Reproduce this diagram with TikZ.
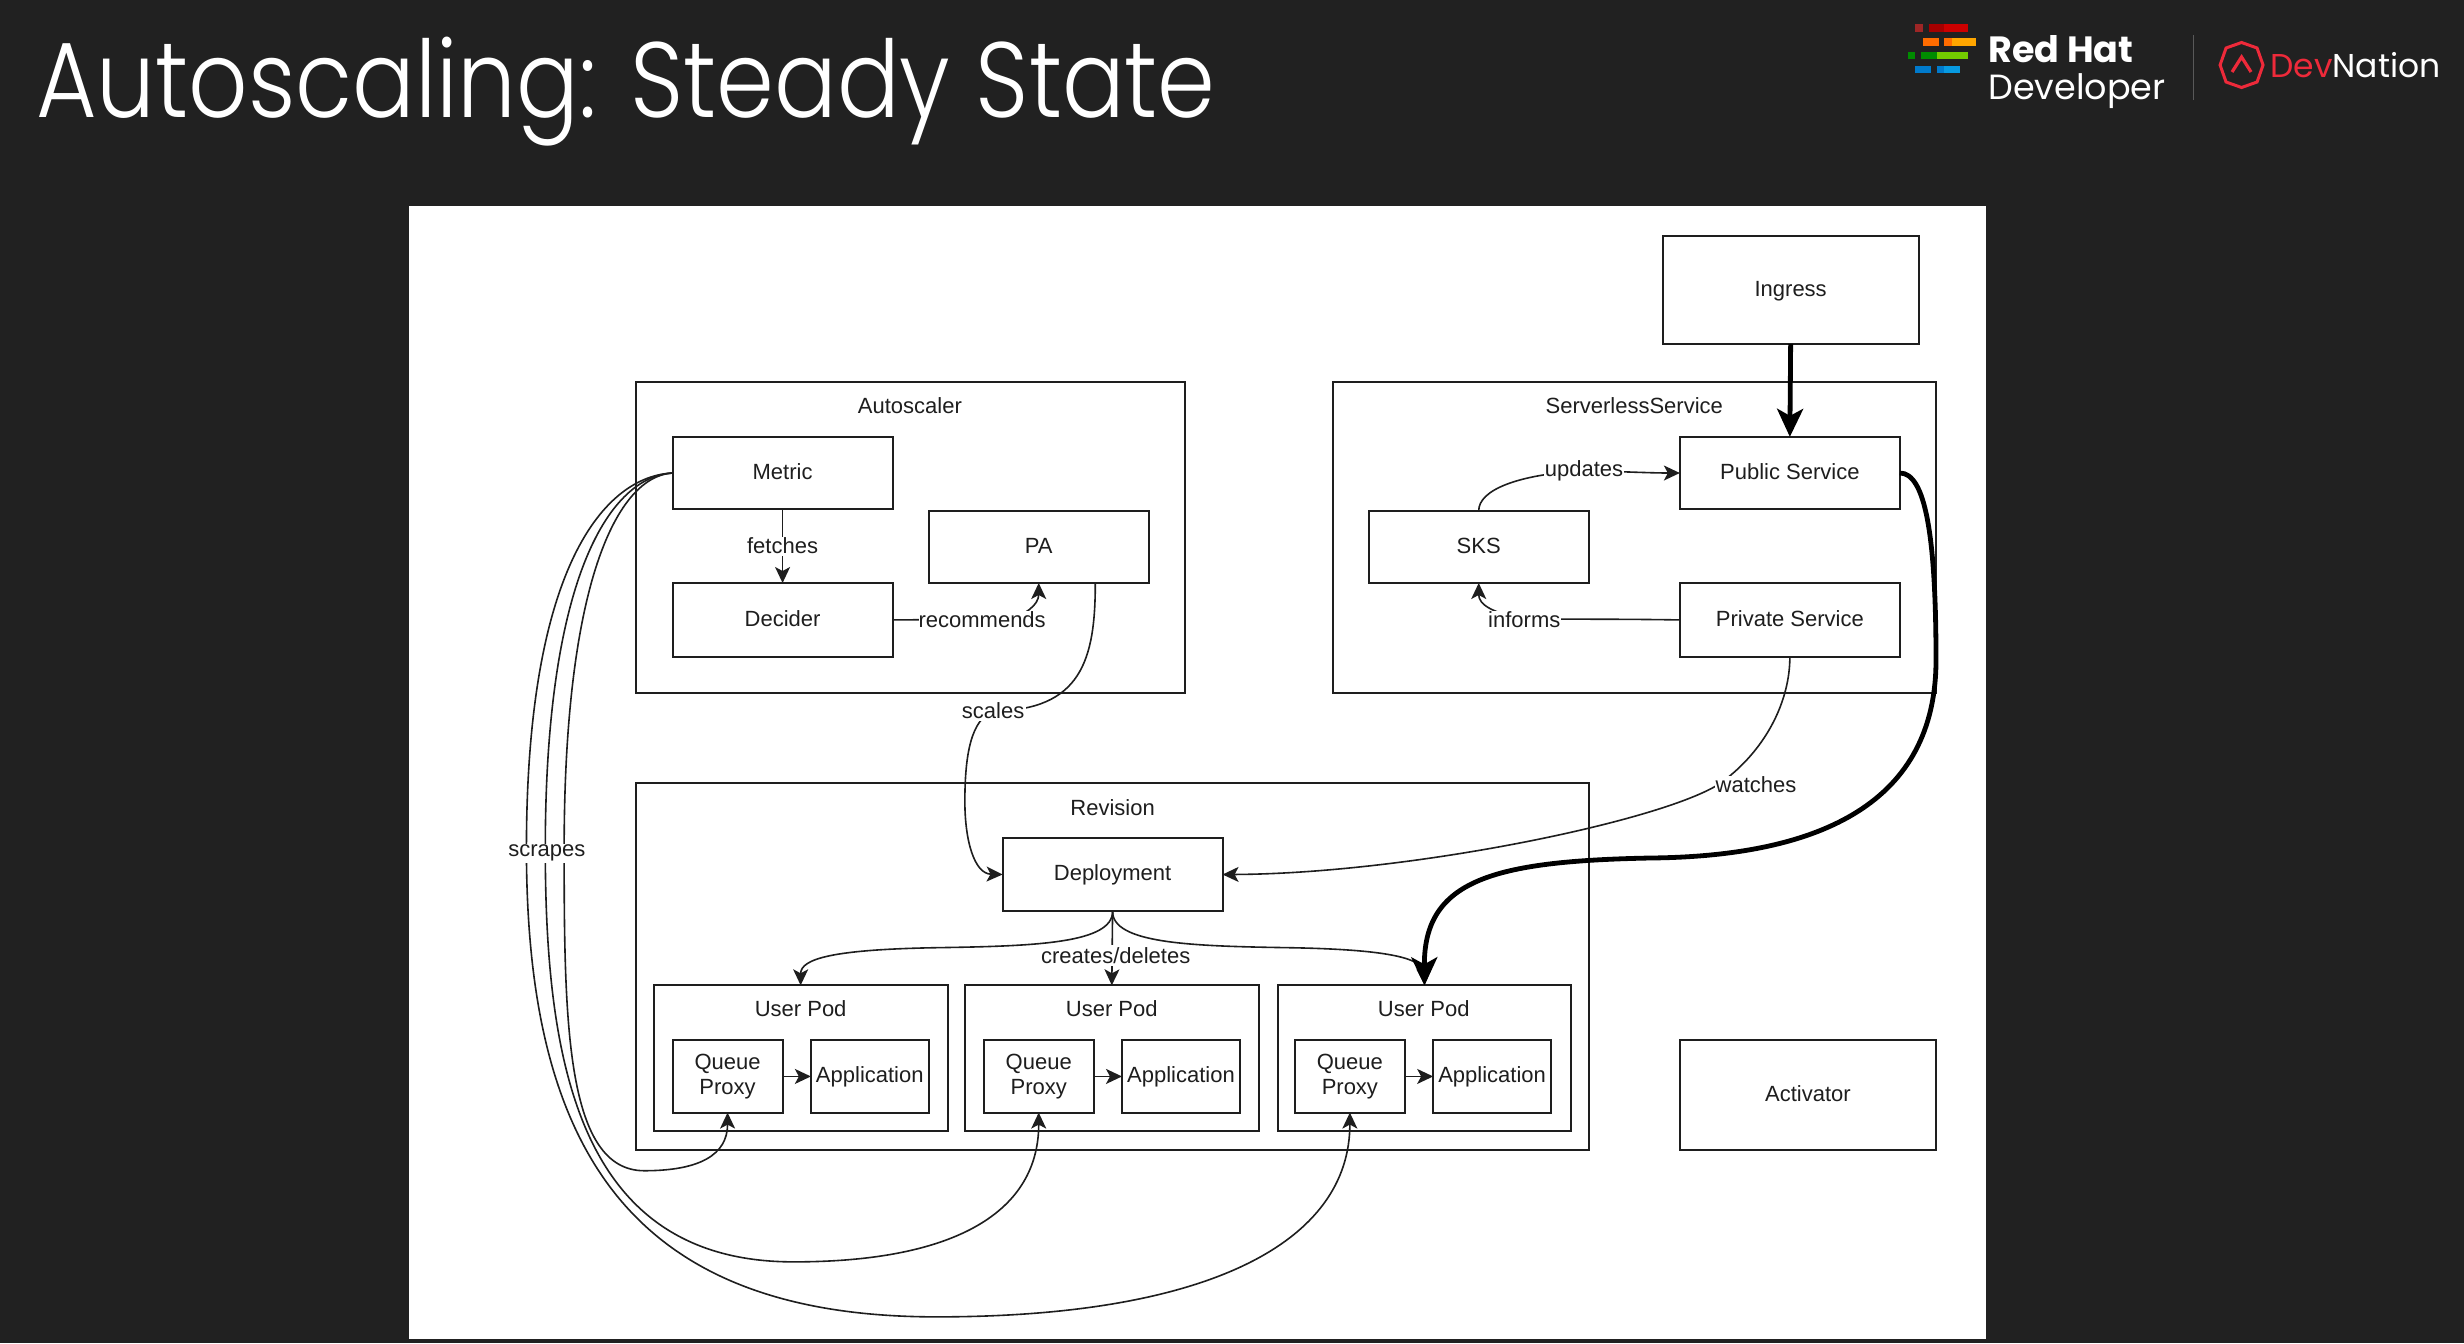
\documentclass[tikz,border=0pt]{standalone}
\usepackage{fontspec}
\setmainfont{Liberation Sans}
\newfontfamily\titlefont[FakeStretch=0.868]{Poppins Light}
\newfontfamily\brandfont{Poppins}
\usetikzlibrary{arrows.meta,calc}
\definecolor{slide}{HTML}{212121}
\definecolor{ink}{HTML}{1E1E1E}
\definecolor{dnred}{HTML}{EE2A3A}
\tikzset{
  twoline/.style={draw=ink,line width=2pt,fill=white,inner sep=0pt,outer sep=0pt,text=ink,align=center,font=\fontsize{22}{25.5}\selectfont},
  boxy/.style={twoline,text height=18pt,text depth=5.4pt},
  grp/.style={boxy,fill=none},
  captxt/.style={inner sep=0pt,text=ink,font=\fontsize{22}{25.5}\selectfont},
  lab/.style={fill=white,inner sep=1.5pt,text=ink,font=\fontsize{22}{25.5}\selectfont},
  conn/.style={draw=ink,line width=1.6pt,-{Stealth[length=16pt,width=15pt,inset=4pt]}},
  heavy/.style={draw=black,line width=4.8pt,-{Stealth[length=28pt,width=26pt,inset=7pt]}},
}
\newcommand{\bx}[7][boxy]{\node[#1,minimum width={(#5-#3)*1.5714pt},minimum height={(#6-#4)*1.5714pt}] (#2) at ({(#3+#5)/2},{(#4+#6)/2}) {#7};}
\begin{document}
\begin{tikzpicture}[x=1.5714pt,y=-1.5714pt]
\useasboundingbox (0,0) rectangle (1568,854.65);
\fill[slide] (0,0) rectangle (1568,854.65);
\fill[white] (260,131) rectangle (1264,852);

% title
\node[anchor=base west,inner sep=0pt,text=white,font=\titlefont\fontsize{107}{120}\selectfont] (title) at (23,75) {Autoscaling: Steady State};

% logo
\begin{scope}[x=1pt,y=-1pt]
\fill[red!55!black!85!white] (1915,24) rectangle (1923,32);
\fill[red!65!black] (1929,24) rectangle (1944,32);
\fill[red!80!black] (1944,24) rectangle (1968,32);
\fill[orange!85!red] (1923,38) rectangle (1939,46);
\fill[orange!85!red] (1944,38) rectangle (1952,46);
\fill[orange!70!yellow] (1952,38) rectangle (1976,46);
\fill[green!55!black] (1908,52) rectangle (1915,59);
\fill[green!55!black] (1921,52) rectangle (1937,59);
\fill[lime!75!green!80!black] (1937,52) rectangle (1968,59);
\fill[blue!40!cyan!80!black] (1915,66) rectangle (1931,73);
\fill[blue!40!cyan!80!black] (1937,66) rectangle (1944,73);
\fill[cyan!85!blue] (1944,66) rectangle (1960,73);
\node[anchor=base west,inner sep=0pt,text=white,font=\brandfont\bfseries\fontsize{36.5}{40}\selectfont] (rh) at (1988,62) {Red Hat};
\node[anchor=base west,inner sep=0pt,text=white,font=\brandfont\fontsize{35}{38}\selectfont] (dev) at (1988,99) {Developer};
\draw[gray!70!black,line width=1pt] (2193,35) -- (2193,100);
\draw[dnred,line width=3pt,line join=miter] (2241.5,42.5) -- (2257,48) -- (2263,65) -- (2257,82) -- (2241.5,87.5) -- (2226,82) -- (2220,65) -- (2226,48) -- cycle;
\draw[dnred,line width=3.2pt] (2232,72) -- (2241.5,57) -- (2251,72);
\node[anchor=base west,inner sep=0pt,font=\brandfont\fontsize{33}{38}\selectfont] (dn) at (2270,77) {\textcolor{dnred}{Dev}\textcolor{white}{Nation}};
\end{scope}

% containers
\bx[grp]{autoscaler}{405}{243}{754}{441}{}
\bx[grp]{serverless}{848}{243}{1232}{441}{}
\bx[grp]{revision}{405}{498}{1011}{732}{}
\node[captxt] (tauto) at (579,258) {Autoscaler};
\node[captxt] (tsvc) at (1040,258) {ServerlessService};
\node[captxt] (trev) at (708,514) {Revision};

% boxes
\bx{ingress}{1058}{150}{1221}{219}{Ingress}
\bx{public}{1069}{278}{1209}{324}{Public Service}
\bx{sks}{871}{325}{1011}{371}{SKS}
\bx{private}{1069}{371}{1209}{418}{Private Service}
\bx{metric}{428}{278}{568}{324}{Metric}
\bx{pa}{591}{325}{731}{371}{PA}
\bx{decider}{428}{371}{568}{418}{Decider}
\bx{deploy}{638}{533}{778}{580}{Deployment}
\bx{activator}{1069}{662}{1232}{732}{Activator}

\bx{podA}{416}{627}{603}{720}{}
\bx{podB}{614}{627}{801}{720}{}
\bx{podC}{813}{627}{1000}{720}{}
\node[captxt] (tpa) at (509.5,642) {User Pod};
\node[captxt] (tpb) at (707.5,642) {User Pod};
\node[captxt] (tpc) at (906,642) {User Pod};
\bx[twoline]{qpA}{428}{662}{498}{708}{Queue\\Proxy}
\bx{appA}{516}{662}{591}{708}{Application}
\bx[twoline]{qpB}{626}{662}{696}{708}{Queue\\Proxy}
\bx{appB}{714}{662}{789}{708}{Application}
\bx[twoline]{qpC}{824}{662}{894}{708}{Queue\\Proxy}
\bx{appC}{912}{662}{987}{708}{Application}

% queue proxy to application
\draw[conn] (qpA) -- (appA);
\draw[conn] (qpB) -- (appB);
\draw[conn] (qpC) -- (appC);

% autoscaler internals
\draw[conn] (metric) -- node[lab] (lfetch) {fetches} (decider);
\draw[conn] (decider.east) -- (640,394) .. controls (652,392) and (661,385) .. (pa.south);
\node[lab,inner sep=0pt] (lrec) at (625,394) {recommends};

% scales
\draw[conn] ($(pa.south)+(36,0)$) .. controls (697,420) and (688,452) .. (632,452.5) node[lab] (lscale) {scales} .. controls (618,458) and (614,480) .. (614,510) .. controls (614,535) and (620,556) .. (deploy.west);

% serverless internals
\draw[conn] (sks.north) .. controls (941,312) and (965,302) .. (1008,299.5) node[lab,inner sep=0.5pt] (lupd) {updates} .. controls (1030,300) and (1050,301) .. (public.west);
\draw[conn] (private.west) .. controls (1040,394) and (1010,394) .. (970,394) node[lab,inner sep=0.5pt] (linf) {informs} .. controls (950,390) and (941,385) .. (sks.south);

% watches
\draw[conn] (private.south) .. controls (1139,445) and (1125,475) .. (1098,496) .. controls (1070,520) and (900,556) .. (deploy.east);
\node[lab,inner sep=0.5pt] (lwat) at (1117.5,499) {watches};

% creates / deletes
\draw[conn] (deploy.south) .. controls (708,600) and (660,602) .. (600,603) .. controls (530,604) and (509.5,610) .. (podA.north);
\draw[conn] (deploy.south) -- (podB.north);
\draw[conn] (deploy.south) .. controls (708,600) and (756,602) .. (816,603) .. controls (886,604) and (906,610) .. (podC.north);
\node[lab,inner sep=2pt] (lcre) at (710,608) {creates/deletes};

% heavy traffic
\draw[heavy] (ingress.south) -- (public.north);
\draw[heavy] (public.east) .. controls (1225,301) and (1232,340) .. (1232,420) .. controls (1232,510) and (1160,545) .. (1050,546) .. controls (950,548) and (906,560) .. (podC.north);

% scrapes
\draw[conn] (metric.west) .. controls (393,303) and (359,370) .. (359,540) .. controls (359,650) and (360,745) .. (410,745) .. controls (445,745) and (463,735) .. (qpA.south);
\draw[conn] (metric.west) .. controls (389,303) and (347,365) .. (347,540) .. controls (347,680) and (370,803) .. (505,803) .. controls (610,803) and (661,770) .. (qpB.south);
\draw[conn] (metric.west) .. controls (385,303) and (335,360) .. (335,540) .. controls (335,730) and (400,838) .. (596,838) .. controls (770,838) and (859,790) .. (qpC.south);
\node[lab,inner sep=1pt] (lscr) at (348,543) {scrapes};
\end{tikzpicture}
\end{document}
